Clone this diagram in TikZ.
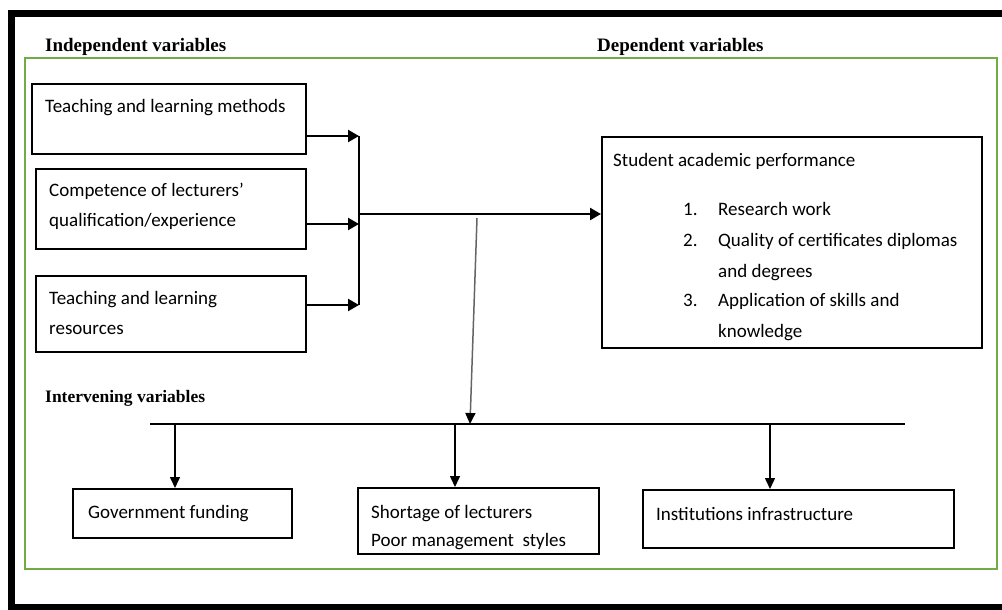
\documentclass[tikz,border=0pt]{standalone}
\usepackage{fontspec}
\setmainfont{Carlito}
\newfontfamily\hdrfont{Liberation Serif}
\usetikzlibrary{arrows.meta}
\definecolor{framegreen}{RGB}{112,173,71}
\definecolor{linegrey}{RGB}{100,100,100}
\tikzset{
  box/.style={draw, line width=1.8pt, inner sep=0pt, anchor=north west},
  txt/.style={anchor=base west, inner sep=0pt, font=\fontsize{19}{22}\selectfont},
  hdr/.style={anchor=base west, inner sep=0pt, font=\hdrfont\bfseries\fontsize{19}{22}\selectfont},
  arrA/.style={line width=2.4pt, -{Triangle[length=11pt,width=12pt]}},
  arrB/.style={line width=1.5pt, -{Triangle[length=11pt,width=10pt]}},
  plain/.style={line width=1.5pt},
}
\begin{document}
\begin{tikzpicture}[x=1pt,y=-1pt]
\useasboundingbox (0,0) rectangle (1002,610);
% outer black frame
\fill (8,10) rectangle (1002,17);
\fill (8,10) rectangle (15,610);
\fill (8,604) rectangle (1002,610);
% green frame
\draw[framegreen, line width=2pt] (25,58) rectangle (997,569);
% headers
\node[hdr] (hInd) at (45,52) {Independent variables};
\node[hdr] (hDep) at (597,52) {Dependent variables};
\node[hdr, font=\hdrfont\bfseries\fontsize{17.5}{20}\selectfont] (hInt) at (45,402) {Intervening variables};
% independent boxes
\node[box, minimum width=274pt, minimum height=70pt] (m1) at (31,83) {};
\node[txt] (m1a) at (45,112) {Teaching and learning methods};
\node[box, minimum width=270pt, minimum height=80pt] (m2) at (35,168) {};
\node[txt] (m2a) at (49,196) {Competence of lecturers’};
\node[txt] (m2b) at (49,226) {qualification/experience};
\node[box, minimum width=270pt, minimum height=76pt] (m3) at (35,275) {};
\node[txt] (m3a) at (49,304) {Teaching and learning};
\node[txt] (m3b) at (49,334) {resources};
% dependent box
\node[box, minimum width=380pt, minimum height=211pt] (perf) at (601,136) {};
\node[txt] (pa) at (613,166) {Student academic performance};
\node[txt] (n1) at (683,215) {1.};
\node[txt] (p1) at (718,215) {Research work};
\node[txt] (n2) at (683,246) {2.};
\node[txt] (p2) at (718,246) {Quality of certificates diplomas};
\node[txt] (p2b) at (718,277) {and degrees};
\node[txt] (n3) at (683,306) {3.};
\node[txt] (p3) at (718,306) {Application of skills and};
\node[txt] (p3b) at (718,337) {knowledge};
% intervening boxes
\node[box, minimum width=219pt, minimum height=49pt] (gov) at (72,488) {};
\node[txt] (gova) at (88,518) {Government funding};
\node[box, minimum width=241pt, minimum height=66pt] (sho) at (357,487) {};
\node[txt] (shoa) at (371,518) {Shortage of lecturers};
\node[txt] (shob) at (371,546) {Poor management~ styles};
\node[box, minimum width=311pt, minimum height=58pt] (inf) at (642,489) {};
\node[txt] (infa) at (656,520) {Institutions infrastructure};
% connectors (independent -> junction -> dependent)
\coordinate (j1) at (359,136);
\coordinate (j2) at (359,224);
\coordinate (j3) at (359,305);
\coordinate (jm) at (359,214);
\draw[arrA] (m1.east |- j1) -- (j1);
\draw[arrA] (m2.east |- j2) -- (j2);
\draw[arrA] (m3.east |- j3) -- (j3);
\draw[plain] (j1) -- (j3);
\draw[arrA] (jm) -- (perf.west |- jm);
% intervening connectors
\coordinate (g0) at (477,218);
\coordinate (g1) at (470,424);
\draw[linegrey, line width=1.5pt, -{Triangle[length=11pt,width=10pt,black]}] (g0) -- (g1);
\coordinate (busL) at (150,424);
\coordinate (busR) at (905,424);
\draw[plain] (busL) -- (busR);
\coordinate (b1) at (175,424);
\coordinate (b2) at (455,424);
\coordinate (b3) at (770,424);
\draw[arrB] (b1) -- (b1 |- gov.north);
\draw[arrB] (b2) -- (b2 |- sho.north);
\draw[arrB] (b3) -- (b3 |- inf.north);
\end{tikzpicture}
\end{document}
